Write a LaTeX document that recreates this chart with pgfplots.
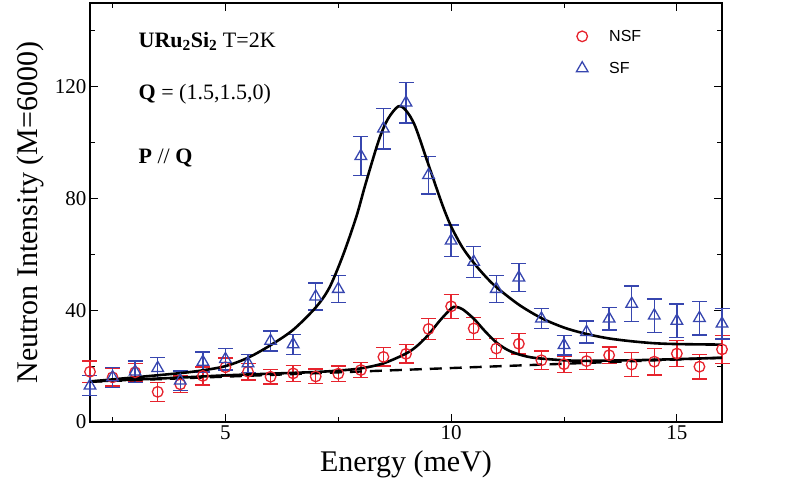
\documentclass[border=0pt]{standalone}
\usepackage{fontspec}
\setmainfont{Liberation Serif}
\newfontfamily\legfont{Liberation Sans}
\usepackage{pgfplots}
\pgfplotsset{compat=1.18}
\definecolor{nsfred}{RGB}{230,35,45}
\definecolor{sfblue}{RGB}{55,70,175}
\pgfplotsset{myleg/.style={legend image code/.code={\draw[##1] plot coordinates {(0pt,0pt)}; \path[draw=none,fill=none] (-6pt,-6pt) (27pt,6pt);}}}

\pgfplotstableread{
x y e
2.0 18.0 3.8
2.5 16.0 3.2
3.0 17.8 3.2
3.5 10.8 3.4
4.0 13.5 3.0
4.5 16.5 3.2
5.0 19.6 3.4
5.5 18.0 3.0
6.0 16.2 2.6
6.5 17.4 2.9
7.0 16.3 2.6
7.5 17.3 2.8
8.0 18.6 2.7
8.5 23.3 3.3
9.0 24.4 3.3
9.5 33.3 3.8
10.0 41.4 4.3
10.5 33.5 4.0
11.0 26.3 3.6
11.5 28.0 3.6
12.0 22.1 3.3
12.5 20.7 3.0
13.0 21.8 3.0
13.5 23.9 3.0
14.0 20.6 4.3
14.5 21.6 4.8
15.0 24.5 4.6
15.5 19.8 4.4
16.0 26.0 5.0
}\nsf

\pgfplotstableread{
x y e
2.0 13.0 3.6
2.5 16.0 3.6
3.0 18.0 3.8
3.5 19.3 3.8
4.0 14.8 3.5
4.5 21.5 3.6
5.0 22.5 3.8
5.5 21.0 3.2
6.0 29.0 3.5
6.5 27.8 3.6
7.0 44.9 4.8
7.5 47.6 4.8
8.0 95.2 7.0
8.5 105.0 7.3
9.0 114.3 7.3
9.5 88.4 6.7
10.0 64.9 5.7
10.5 57.3 5.5
11.0 47.6 4.8
11.5 51.7 5.0
12.0 37.0 3.6
12.5 27.5 3.5
13.0 32.2 3.9
13.5 37.0 4.0
14.0 42.3 6.3
14.5 38.1 6.0
15.0 36.2 6.0
15.5 37.2 6.0
16.0 35.2 5.4
}\sf

\begin{document}
\begin{tikzpicture}
\begin{axis}[
  scale only axis, width=632pt, height=419pt,
  xmin=2, xmax=16, ymin=0, ymax=150,
  clip=false,
  xtick={5,10,15}, minor xtick={2.5,7.5,12.5},
  ytick={0,40,80,120}, minor ytick={20,60,100,140},
  tick align=inside, major tick length=8pt, minor tick length=5pt,
  every tick/.style={black, line width=1pt},
  axis line style={line width=1.2pt},
  tick label style={font=\fontsize{21}{21}\selectfont},
  /pgf/number format/assume math mode=true,
  xlabel={Energy (meV)}, ylabel={Neutron Intensity (M=6000)},
  label style={font=\fontsize{30}{30}\selectfont},
  xlabel style={at={(axis description cs:0.5,-0.1)}, anchor=center},
  ylabel style={at={(axis description cs:-0.095,0.5)}, anchor=center},
  legend style={draw=none, fill=none, at={(rel axis cs:0.769,0.936)}, anchor=north west,
    font=\legfont\fontsize{16}{16}\selectfont, row sep=19pt, inner sep=0pt,
    nodes={inner sep=0pt}},
  legend cell align=left,
]
\addplot[nsfred, only marks, mark=o, mark size=5.3pt, mark options={line width=1.3pt},
  myleg,
  error bars/.cd, y dir=both, y explicit,
  error bar style={line width=1.5pt},
  error mark options={nsfred, mark size=7.5pt, line width=1.5pt, rotate=90}]
  table[x=x, y=y, y error=e] {\nsf};
\addlegendentry{NSF}
\addplot[sfblue, only marks, mark=triangle, mark size=6.7pt, mark options={line width=1.3pt},
  myleg,
  error bars/.cd, y dir=both, y explicit,
  error bar style={line width=1.5pt},
  error mark options={sfblue, mark size=7.5pt, line width=1.5pt, rotate=90}]
  table[x=x, y=y, y error=e] {\sf};
\addlegendentry{SF}

\addplot[forget plot, black, line width=2.4pt, dash pattern=on 12pt off 8pt]
  coordinates {(2,14.4) (16,23.0)};
\addplot[forget plot, black, line width=2.6pt, smooth] coordinates {
(2.0,14.5) (3.0,15.2) (4.0,15.9) (5.0,16.7) (6.0,17.3) (7.0,17.9) (7.5,18.4)
(8.0,19.2) (8.5,21.0) (9.0,24.5) (9.25,27.3) (9.5,31.3) (9.75,36.3) (10.0,40.6)
(10.1,41.2) (10.25,40.4) (10.5,37.0) (10.75,32.5) (11.0,28.5) (11.25,25.8)
(11.5,24.2) (11.75,23.2) (12.0,22.7) (12.5,22.1) (13.0,21.9) (14.0,22.1)
(15.0,22.5) (16.0,23.0)};
\addplot[forget plot, black, line width=2.6pt, smooth] coordinates {
(2.0,14.5) (3.0,16.0) (4.0,17.5) (4.5,18.5) (5.0,20.0) (5.5,23.0) (6.0,27.5)
(6.5,33.0) (7.0,41.0) (7.3,48.0) (7.6,59.5) (7.9,73.5) (8.1,85.0) (8.4,101.0)
(8.6,108.5) (8.83,113.0) (9.0,111.5) (9.2,106.0) (9.5,92.0) (9.8,78.0)
(10.0,70.0) (10.25,62.5) (10.5,57.0) (10.75,52.3) (11.0,48.3) (11.5,42.0)
(12.0,37.2) (12.5,33.8) (13.0,31.5) (13.5,29.9) (14.0,28.9) (14.5,28.2)
(15.0,27.9) (16.0,27.7)};

\node[anchor=base west, font=\fontsize{22}{22}\selectfont] at (axis cs:3.0,134)
  {\textbf{URu\textsubscript{2}Si\textsubscript{2}} T=2K};
\node[anchor=base west, font=\fontsize{22}{22}\selectfont] at (axis cs:3.0,115.4)
  {\textbf{Q} = (1.5,1.5,0)};
\node[anchor=base west, font=\fontsize{22}{22}\selectfont] at (axis cs:3.0,92.5)
  {\textbf{P} // \textbf{Q}};
\end{axis}
\pgfresetboundingbox
\path (current axis.south west) ++(-90pt,-68pt) rectangle ++(795pt,490pt);
\end{tikzpicture}
\end{document}
